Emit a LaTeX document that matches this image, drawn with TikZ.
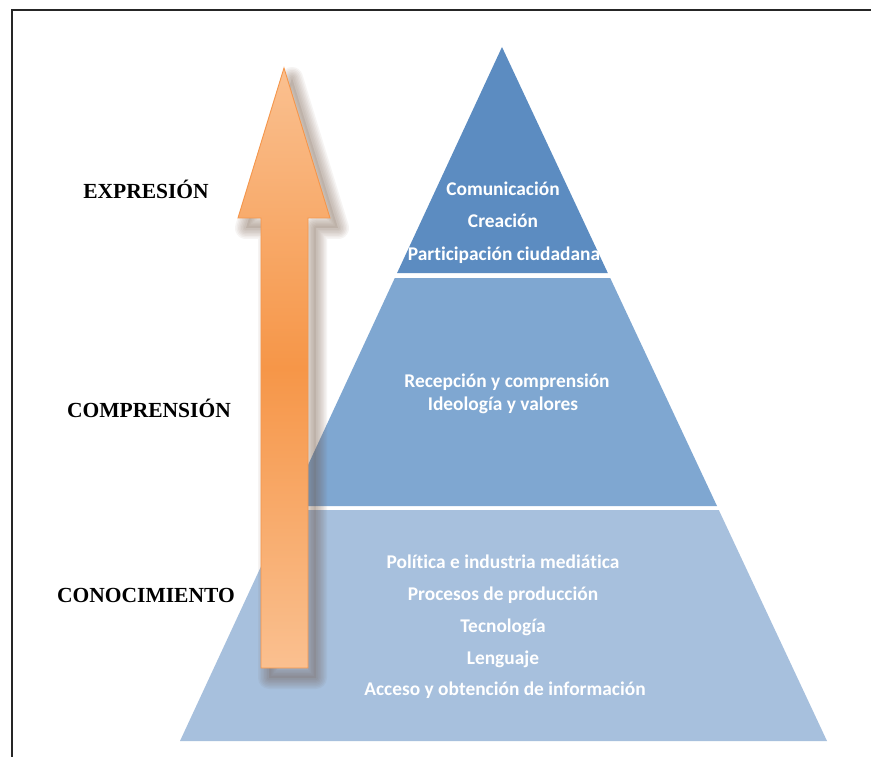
\documentclass[tikz,border=0pt]{standalone}
\usepackage{fontspec}
\setmainfont{Liberation Serif}
\newfontfamily\calfont[Ligatures=NoCommon]{Carlito}
\definecolor{tierA}{RGB}{92,140,193}
\definecolor{tierB}{RGB}{127,167,209}
\definecolor{tierC}{RGB}{167,192,221}
\definecolor{arrLight}{RGB}{250,192,144}
\definecolor{arrDark}{RGB}{246,150,72}
\definecolor{arrLine}{RGB}{245,150,75}
\definecolor{shadowcol}{RGB}{110,80,60}
\newcommand\arrowshape[1]{\path[#1] (284,68) -- (330,218) -- (308,218) -- (308,668) -- (261,668) -- (261,218) -- (238,218) -- cycle;}
\tikzset{
  lvl/.style={anchor=base, font=\bfseries\fontsize{21.5}{25}\selectfont, text=black, inner sep=0pt},
  ptxt/.style={anchor=base, font=\calfont\bfseries\fontsize{19.4}{23}\selectfont, text=white, inner sep=0pt},
}
\begin{document}
\begin{tikzpicture}[x=1pt,y=-1pt]
\useasboundingbox (0,0) rectangle (871,757);
\fill[white] (0,0) rectangle (871,757);
% frame
\draw[line width=1.6pt, black!85] (12,775) -- (12,10) -- (890,10);
% pyramid tiers
\fill[tierA] (502,47) -- (607.8,273) -- (397.1,273) -- cycle;
\fill[tierB] (394.8,278) -- (610.2,278) -- (717,506) -- (289,506) -- cycle;
\fill[tierC] (287.2,510) -- (718.8,510) -- (827,741) -- (180,741) -- cycle;
% arrow shadow (soft, layered strokes)
\begin{scope}[shift={(8,10)}]
  \arrowshape{fill=shadowcol, opacity=0.12}
  \foreach \w in {22,19,16,13,10,7,4}{
    \arrowshape{draw=shadowcol, line width=\w pt, line join=round, draw opacity=0.06}
  }
\end{scope}
% arrow
\arrowshape{top color=arrLight, bottom color=arrLight, middle color=arrDark, draw=arrLine, line width=0.9pt}
% level labels
\node[lvl] (expr) at (146,199) {EXPRESIÓN};
\node[lvl] (compr) at (149,417) {COMPRENSIÓN};
\node[lvl] (conoc) at (146,602) {CONOCIMIENTO};
% top tier
\node[ptxt] (t1) at (503,196) {Comunicación};
\node[ptxt] (t2) at (503,228) {Creación};
\node[ptxt] (t3) at (504,260) {Participación ciudadana};
% middle tier
\node[ptxt] (m1) at (507,387) {Recepción y comprensión};
\node[ptxt] (m2) at (503,410) {Ideología y valores};
% bottom tier
\node[ptxt] (b1) at (503,568) {Política e industria mediática};
\node[ptxt] (b2) at (503,600) {Procesos de producción};
\node[ptxt] (b3) at (503,632) {Tecnología};
\node[ptxt] (b4) at (503,664) {Lenguaje};
\node[ptxt] (b5) at (505,695) {Acceso y obtención de información};
\end{tikzpicture}
\end{document}
